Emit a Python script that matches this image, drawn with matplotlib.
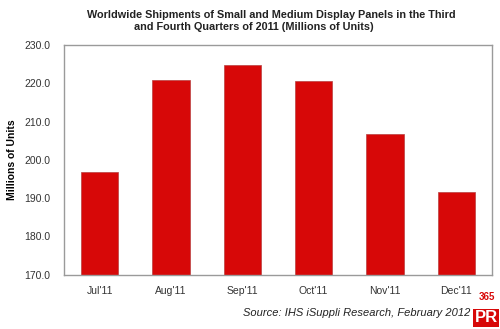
import numpy as np
import matplotlib.pyplot as plt

plt.rcParams['font.family'] = ['Liberation Sans', 'DejaVu Sans']

months = ["Jul'11", "Aug'11", "Sep'11", "Oct'11", "Nov'11", "Dec'11"]
shipments = [196.8, 221.0, 224.8, 220.7, 206.8, 191.6]
y_ticks = [170.0, 180.0, 190.0, 200.0, 210.0, 220.0, 230.0]

fig = plt.figure(figsize=(5.0, 3.29), dpi=100)
ax = fig.add_axes([0.128, 0.165, 0.856, 0.698])

x = np.arange(len(months))
ax.bar(x, shipments, width=0.52, color='#d70808', edgecolor='#b84040', linewidth=0.5, bottom=0)

ax.set_ylim(170, 230)
ax.set_xlim(-0.5, len(months) - 0.5)
ax.set_yticks(y_ticks)
ax.set_yticklabels(['%.1f' % v for v in y_ticks], fontsize=7.5, color='#333333')
ax.set_xticks(x)
ax.set_xticklabels(months, fontsize=7.5, color='#333333')
ax.tick_params(axis='y', length=0, pad=10)
ax.tick_params(axis='x', length=0, pad=8)

for side in ['left', 'right', 'top', 'bottom']:
    ax.spines[side].set_color('#9a9a9a')
    ax.spines[side].set_linewidth(1.0)

ax.set_ylabel('Millions of Units', fontsize=7.5, fontweight='bold', labelpad=5)

fig.text(0.542, 0.953, 'Worldwide Shipments of Small and Medium Display Panels in the Third',
         ha='center', va='center', fontsize=7.8, fontweight='bold', color='#222222')
fig.text(0.507, 0.918, 'and Fourth Quarters of 2011 (Millions of Units)',
         ha='center', va='center', fontsize=7.8, fontweight='bold', color='#222222')

fig.text(0.94, 0.048, 'Source: IHS iSuppli Research, February 2012',
         ha='right', va='center', fontsize=8, style='italic', color='#222222')

# small logo in the corner
fig.text(0.974, 0.097, '365', ha='center', va='center', fontsize=7,
         fontweight='bold', color='#d70808')
fig.text(0.972, 0.034, 'PR', ha='center', va='center', fontsize=12,
         fontweight='bold', color='white',
         bbox=dict(boxstyle='square,pad=0.08', facecolor='#d70808', edgecolor='none'))

fig.savefig('out.png', dpi=100)
